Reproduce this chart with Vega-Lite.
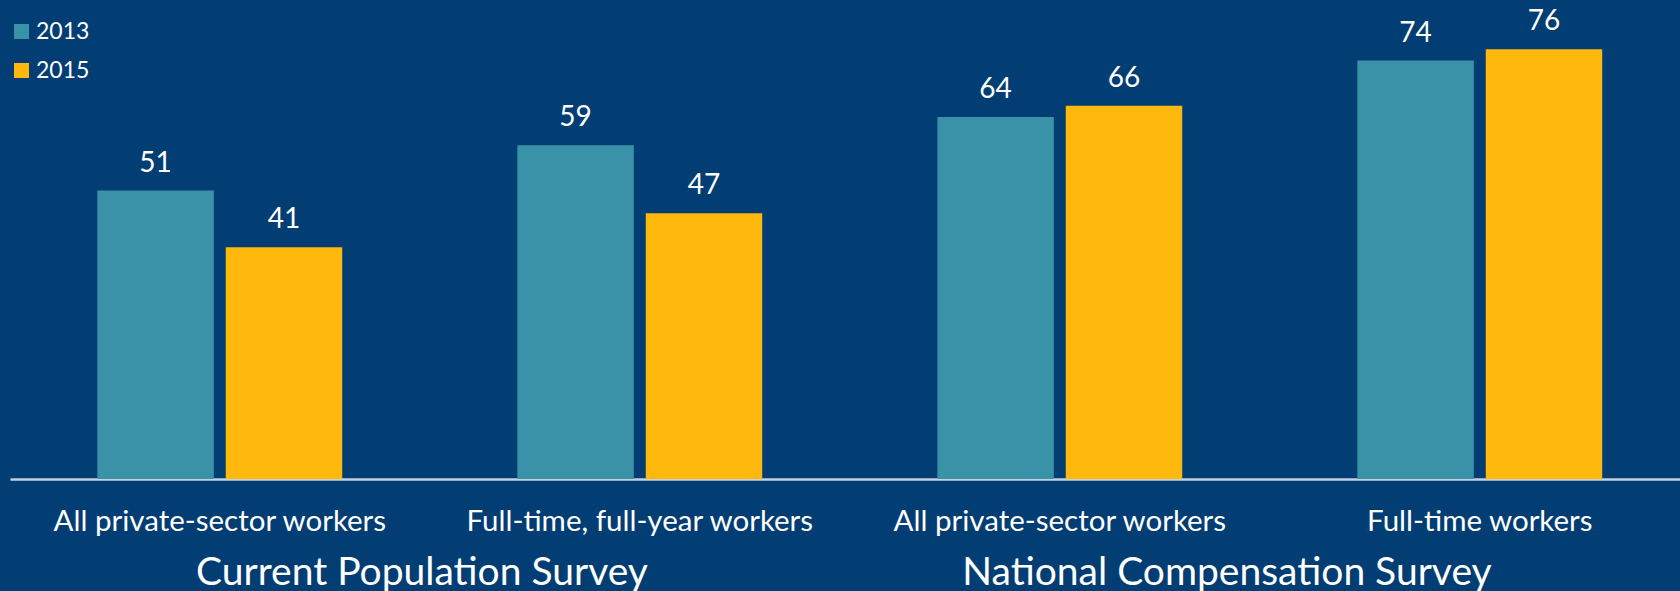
{
  "$schema": "https://vega.github.io/schema/vega-lite/v6.json",
  "width": 1670,
  "height": 479,
  "autosize": {"type": "none"},
  "padding": {"left": 10, "top": 0, "right": 0, "bottom": 112},
  "background": "#023d73",
  "config": {"view": {"stroke": null}, "font": "Lato", "axis": {"grid": false}},
  "datasets": {
    "bars": [
      {"category": "CPS|All private-sector workers", "year": "2013", "value": 51},
      {"category": "CPS|All private-sector workers", "year": "2015", "value": 41},
      {"category": "CPS|Full-time, full-year workers", "year": "2013", "value": 59},
      {"category": "CPS|Full-time, full-year workers", "year": "2015", "value": 47},
      {"category": "NCS|All private-sector workers", "year": "2013", "value": 64},
      {"category": "NCS|All private-sector workers", "year": "2015", "value": 66},
      {"category": "NCS|Full-time workers", "year": "2013", "value": 74},
      {"category": "NCS|Full-time workers", "year": "2015", "value": 76}
    ],
    "surveys": [
      {"survey": "Current Population Survey"},
      {"survey": "National Compensation Survey"}
    ]
  },
  "layer": [
    {
      "data": {"name": "bars"},
      "encoding": {
        "x": {
          "field": "category", "type": "nominal", "sort": null,
          "scale": {"paddingInner": 0.417, "paddingOuter": 0.1966, "align": 0.529},
          "axis": {
            "orient": "bottom", "title": null, "labelAngle": 0, "labelLimit": 1000, "labelAlign": "center",
            "labelExpr": "split(datum.value, '|')[1]",
            "labelFontSize": 29.5, "labelColor": "#ffffff", "labelPadding": 28,
            "ticks": false, "domainColor": "#c5d1dc", "domainWidth": 2.5
          }
        },
        "xOffset": {"field": "year", "type": "nominal", "scale": {"paddingInner": 0.093, "paddingOuter": 0}},
        "y": {"field": "value", "type": "quantitative", "scale": {"domain": [0, 84.7], "nice": false}, "axis": null}
      },
      "layer": [
        {
          "mark": {"type": "bar"},
          "encoding": {
            "color": {
              "field": "year", "type": "nominal",
              "scale": {"range": ["#3a92a8", "#ffb80c"]},
              "legend": {
                "title": null, "orient": "none", "legendX": 0, "legendY": 20,
                "symbolType": "square", "symbolSize": 225, "symbolStrokeWidth": 0,
                "labelFontSize": 23, "labelColor": "#ffffff", "rowPadding": 15, "labelOffset": 3
              }
            }
          }
        },
        {
          "mark": {"type": "text", "baseline": "alphabetic", "dy": -19, "fontSize": 28, "color": "#ffffff"},
          "encoding": {"text": {"field": "value", "type": "quantitative"}}
        }
      ]
    },
    {
      "data": {"name": "surveys"},
      "mark": {"type": "text"},
      "encoding": {
        "x": {
          "field": "survey", "type": "nominal", "sort": null,
          "scale": {"type": "band", "paddingInner": 0, "paddingOuter": 0.03727, "align": 0.158},
          "axis": {
            "orient": "bottom", "title": null, "labelAngle": 0, "labelLimit": 1000, "labelAlign": "center",
            "labelFontSize": 39, "labelColor": "#ffffff", "labelPadding": 74,
            "ticks": false, "domain": false
          }
        },
        "text": {"value": ""}
      }
    }
  ],
  "resolve": {"scale": {"x": "independent"}, "axis": {"x": "independent"}}
}
